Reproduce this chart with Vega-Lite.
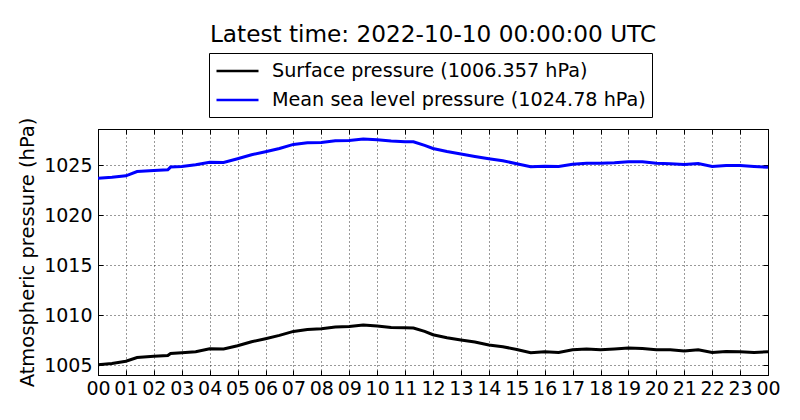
{
  "$schema": "https://vega.github.io/schema/vega-lite/v6.json",
  "width": 670,
  "height": 246,
  "autosize": "none",
  "padding": {"left": 98, "top": 129, "right": 32, "bottom": 45},
  "background": "white",
  "title": {"text": "Latest time: 2022-10-10 00:00:00 UTC", "fontSize": 23.2, "font": "DejaVu Sans", "fontWeight": "normal", "anchor": "middle", "color": "black", "offset": -13, "baseline": "alphabetic"},
  "config": {
    "font": "DejaVu Sans",
    "view": {"stroke": "black", "strokeWidth": 1},
    "axis": {"labelFont": "DejaVu Sans", "titleFont": "DejaVu Sans", "labelColor": "black", "titleColor": "black", "domainColor": "black", "tickColor": "black", "gridColor": "black", "gridDash": [1, 3], "gridWidth": 1, "gridOpacity": 0.8, "tickSize": -5, "tickWidth": 1}
  },
  "data": {"values": [
    {"h": 0, "sp": 1005.07, "mslp": 1023.69},
    {"h": 0.5, "sp": 1005.2, "mslp": 1023.79},
    {"h": 1, "sp": 1005.43, "mslp": 1023.93},
    {"h": 1.4, "sp": 1005.8, "mslp": 1024.36},
    {"h": 2, "sp": 1005.93, "mslp": 1024.46},
    {"h": 2.5, "sp": 1006.0, "mslp": 1024.53},
    {"h": 2.6, "sp": 1006.2, "mslp": 1024.8},
    {"h": 3, "sp": 1006.27, "mslp": 1024.86},
    {"h": 3.5, "sp": 1006.37, "mslp": 1025.03},
    {"h": 4, "sp": 1006.67, "mslp": 1025.29},
    {"h": 4.5, "sp": 1006.64, "mslp": 1025.26},
    {"h": 5, "sp": 1006.97, "mslp": 1025.63},
    {"h": 5.5, "sp": 1007.37, "mslp": 1026.03},
    {"h": 6, "sp": 1007.67, "mslp": 1026.33},
    {"h": 6.5, "sp": 1008.0, "mslp": 1026.66},
    {"h": 7, "sp": 1008.4, "mslp": 1027.06},
    {"h": 7.5, "sp": 1008.6, "mslp": 1027.23},
    {"h": 8, "sp": 1008.67, "mslp": 1027.26},
    {"h": 8.5, "sp": 1008.84, "mslp": 1027.43},
    {"h": 9, "sp": 1008.9, "mslp": 1027.46},
    {"h": 9.5, "sp": 1009.04, "mslp": 1027.6},
    {"h": 10, "sp": 1008.94, "mslp": 1027.53},
    {"h": 10.5, "sp": 1008.8, "mslp": 1027.4},
    {"h": 11, "sp": 1008.77, "mslp": 1027.33},
    {"h": 11.3, "sp": 1008.74, "mslp": 1027.33},
    {"h": 11.7, "sp": 1008.4, "mslp": 1026.96},
    {"h": 12, "sp": 1008.07, "mslp": 1026.66},
    {"h": 12.5, "sp": 1007.77, "mslp": 1026.36},
    {"h": 13, "sp": 1007.54, "mslp": 1026.1},
    {"h": 13.5, "sp": 1007.34, "mslp": 1025.86},
    {"h": 14, "sp": 1007.04, "mslp": 1025.63},
    {"h": 14.5, "sp": 1006.87, "mslp": 1025.43},
    {"h": 15, "sp": 1006.6, "mslp": 1025.13},
    {"h": 15.5, "sp": 1006.27, "mslp": 1024.83},
    {"h": 16, "sp": 1006.37, "mslp": 1024.89},
    {"h": 16.5, "sp": 1006.3, "mslp": 1024.86},
    {"h": 17, "sp": 1006.57, "mslp": 1025.09},
    {"h": 17.5, "sp": 1006.64, "mslp": 1025.19},
    {"h": 18, "sp": 1006.57, "mslp": 1025.19},
    {"h": 18.5, "sp": 1006.64, "mslp": 1025.23},
    {"h": 19, "sp": 1006.74, "mslp": 1025.33},
    {"h": 19.5, "sp": 1006.7, "mslp": 1025.33},
    {"h": 20, "sp": 1006.57, "mslp": 1025.19},
    {"h": 20.5, "sp": 1006.57, "mslp": 1025.13},
    {"h": 21, "sp": 1006.44, "mslp": 1025.06},
    {"h": 21.5, "sp": 1006.57, "mslp": 1025.16},
    {"h": 22, "sp": 1006.3, "mslp": 1024.86},
    {"h": 22.5, "sp": 1006.4, "mslp": 1024.96},
    {"h": 23, "sp": 1006.37, "mslp": 1024.96},
    {"h": 23.5, "sp": 1006.3, "mslp": 1024.86},
    {"h": 24, "sp": 1006.36, "mslp": 1024.78}
  ]},
  "transform": [{"fold": ["sp", "mslp"], "as": ["series", "value"]}],
  "layer": [
    {
      "mark": {"type": "line", "strokeWidth": 3, "clip": true},
      "encoding": {
        "x": {"field": "h", "type": "quantitative", "scale": {"domain": [0, 24], "nice": false, "zero": false},
              "axis": {"orient": "bottom", "values": [0,1,2,3,4,5,6,7,8,9,10,11,12,13,14,15,16,17,18,19,20,21,22,23,24], "labelExpr": "datum.value >= 24 ? '00' : (datum.value < 10 ? '0' + datum.value : '' + datum.value)", "labelFontSize": 19, "labelPadding": 9, "labelFlush": false, "labelOverlap": false, "title": null, "grid": true}},
        "y": {"field": "value", "type": "quantitative", "scale": {"domain": [1004.05, 1028.6], "nice": false, "zero": false},
              "axis": {"orient": "left", "values": [1005, 1010, 1015, 1020, 1025], "format": "d", "labelFontSize": 19, "labelPadding": 11, "labelFlush": false, "title": "Atmospheric pressure (hPa)", "titleFontSize": 19.5, "titleFontWeight": "normal", "titlePadding": 6, "grid": true}},
        "color": {"field": "series", "type": "nominal", "scale": {"domain": ["sp", "mslp"], "range": ["#000000", "#0000ff"]},
                  "legend": {"title": null, "orient": "none", "legendX": 111, "legendY": -76, "direction": "vertical", "padding": 6, "strokeColor": "black", "fillColor": "white", "cornerRadius": 0,
                             "labelFontSize": 19.2, "labelFont": "DejaVu Sans", "labelColor": "black", "labelLimit": 600,
                             "symbolType": "M-1,0H3", "symbolSize": 441, "symbolStrokeWidth": 2.5, "labelOffset": 33, "rowPadding": 6,
                             "labelExpr": "datum.label == 'sp' ? 'Surface pressure (1006.357 hPa)' : 'Mean sea level pressure (1024.78 hPa)'"}}
      }
    },
    {
      "mark": {"type": "line", "strokeOpacity": 0},
      "encoding": {
        "x": {"field": "h", "type": "quantitative", "axis": {"orient": "top", "values": [0,1,2,3,4,5,6,7,8,9,10,11,12,13,14,15,16,17,18,19,20,21,22,23,24], "labels": false, "title": null, "grid": false}},
        "y": {"field": "value", "type": "quantitative", "axis": {"orient": "right", "values": [1005, 1010, 1015, 1020, 1025], "labels": false, "title": null, "grid": false}}
      }
    }
  ],
  "resolve": {"axis": {"x": "independent", "y": "independent"}}
}
